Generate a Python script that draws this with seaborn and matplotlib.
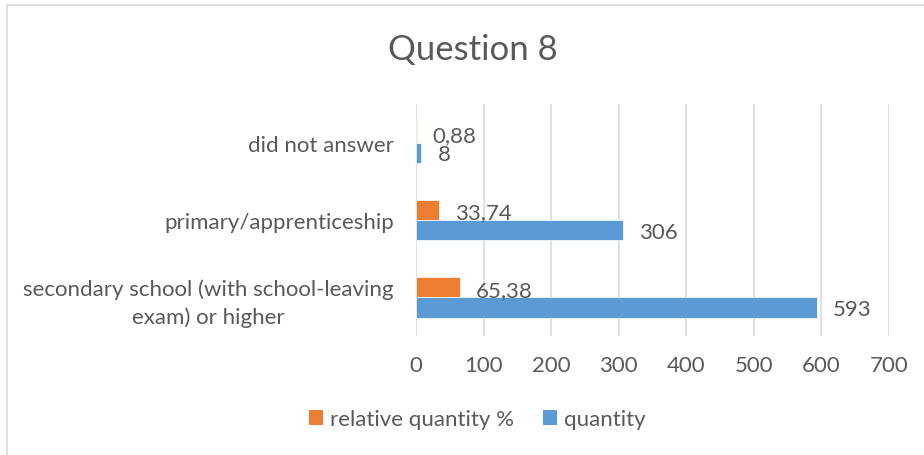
import matplotlib
matplotlib.use("Agg")
import matplotlib.pyplot as plt
import seaborn as sns
import pandas as pd
from matplotlib.patches import Rectangle, Patch

categories = ["did not answer", "primary/apprenticeship",
              "secondary school (with school-leaving\nexam) or higher"]
series_names = ["relative quantity %", "quantity"]
relative_pct = [0.88, 33.74, 65.38]
quantity = [8, 306, 593]
x_ticks = [0, 100, 200, 300, 400, 500, 600, 700]
title = "Question 8"
colors = ["#ED7D31", "#5B9BD5"]
text_color = "#595959"

df = pd.DataFrame({
    "category": categories * 2,
    "series": [series_names[0]] * 3 + [series_names[1]] * 3,
    "value": relative_pct + quantity,
})

sns.set_style("white")
plt.rcParams["font.family"] = ["Lato", "DejaVu Sans"]

W, H = 924, 456
fig = plt.figure(figsize=(W / 100, H / 100), dpi=100)
fig.patches.append(Rectangle((7 / W, -0.1), 1.2, 1.1 - 6 / H, transform=fig.transFigure,
                             fill=False, edgecolor="#d9d9d9", linewidth=1.2))

ax = fig.add_axes([416 / W, 1 - 337 / H, (889 - 416) / W, (337 - 105) / H])
sns.barplot(data=df, y="category", x="value", hue="series", hue_order=series_names,
            order=categories, orient="h", width=0.53, palette=colors, ax=ax,
            legend=False, saturation=1, edgecolor="white", linewidth=0.5)

FS = 16
ax.set_xlim(0, 700)
ax.set_xticks(x_ticks)
ax.set_xticklabels([str(t) for t in x_ticks])
ax.grid(axis="x", color="#d9d9d9", linewidth=1.2)
ax.set_axisbelow(True)
for s in ax.spines.values():
    s.set_visible(False)
ax.set_xlabel("")
ax.set_ylabel("")
ax.tick_params(axis="both", length=0, labelsize=FS, labelcolor=text_color)
ax.tick_params(axis="y", pad=16)
ax.tick_params(axis="x", pad=14)
for lab in ax.get_yticklabels():
    lab.set_multialignment("center")
    lab.set_linespacing(1.4)

label_sets = [[f"{v:.2f}".replace(".", ",") for v in relative_pct],
              [str(v) for v in quantity]]
dy = [-2, -1]
for ci, cont in enumerate(ax.containers):
    for bar, txt in zip(cont.patches, label_sets[ci]):
        ax.annotate(txt, (bar.get_width(), bar.get_y() + bar.get_height() / 2),
                    xytext=(11.5, dy[ci]), textcoords="offset points",
                    ha="left", va="center", fontsize=FS, color=text_color)

fig.text(473 / W, 1 - 50 / H, title, ha="center", va="center", fontsize=25, color=text_color)

handles = [Patch(facecolor=c, edgecolor="none") for c in colors]
fig.legend(handles, series_names, loc="center", bbox_to_anchor=(477 / W, 1 - 420 / H),
           ncol=2, frameon=False, fontsize=FS, labelcolor=text_color,
           handlelength=0.65, handleheight=0.65, handletextpad=0.3, columnspacing=1.3)

fig.savefig("out.png", dpi=100)
